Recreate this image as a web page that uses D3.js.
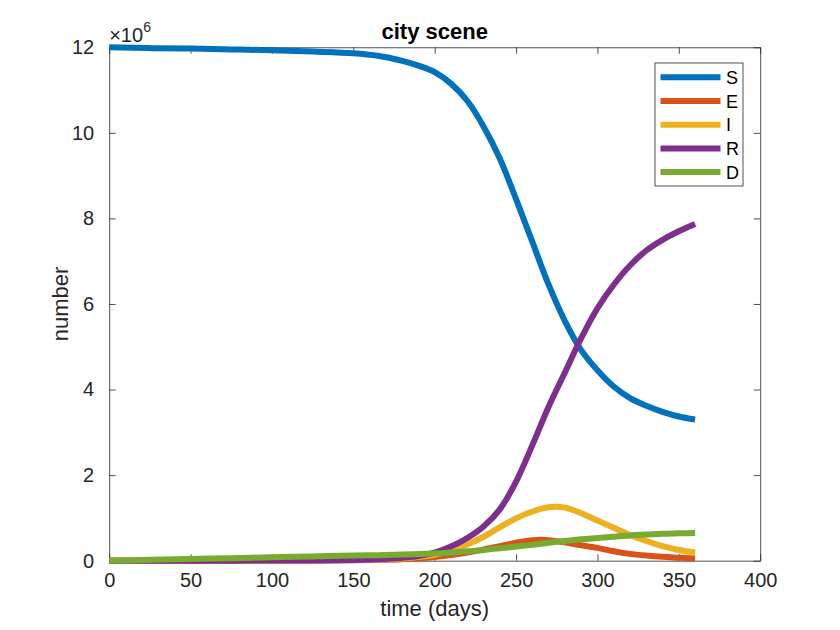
<!DOCTYPE html>
<html>
<head>
<meta charset="utf-8">
<script src="https://d3js.org/d3.v7.min.js"></script>
<style>
  body { margin: 0; background: #fff; }
  svg { display: block; font-family: Arial, "Liberation Sans", Helvetica, sans-serif; }
</style>
</head>
<body>
<div id="chart"></div>
<script>
// days sampled from the plot, values in units of 1e6 people
const days = [0, 25, 50, 75, 100, 125, 150, 165, 180, 190, 200, 210, 220, 230, 240, 250, 260, 270, 280, 290, 300, 310, 320, 330, 340, 350, 360];
const S = [12.0, 11.98, 11.97, 11.95, 11.93, 11.9, 11.86, 11.8, 11.68, 11.57, 11.42, 11.15, 10.75, 10.15, 9.4, 8.45, 7.45, 6.45, 5.6, 4.92, 4.45, 4.07, 3.8, 3.62, 3.48, 3.37, 3.3];
const E = [0, 0, 0, 0.001, 0.003, 0.006, 0.012, 0.02, 0.035, 0.055, 0.085, 0.13, 0.19, 0.26, 0.34, 0.42, 0.48, 0.48, 0.43, 0.36, 0.3, 0.22, 0.16, 0.12, 0.09, 0.07, 0.05];
const I = [0, 0, 0, 0.001, 0.003, 0.007, 0.015, 0.027, 0.05, 0.085, 0.14, 0.25, 0.38, 0.56, 0.78, 0.99, 1.15, 1.25, 1.24, 1.11, 0.94, 0.77, 0.6, 0.46, 0.34, 0.25, 0.19];
const R = [0, 0, 0, 0.001, 0.003, 0.006, 0.015, 0.035, 0.07, 0.11, 0.19, 0.33, 0.53, 0.8, 1.2, 1.85, 2.7, 3.6, 4.4, 5.2, 5.9, 6.45, 6.9, 7.25, 7.5, 7.7, 7.87];
const D = [0, 0.02, 0.04, 0.06, 0.08, 0.1, 0.12, 0.13, 0.145, 0.155, 0.17, 0.19, 0.22, 0.25, 0.29, 0.33, 0.37, 0.42, 0.46, 0.5, 0.53, 0.56, 0.59, 0.61, 0.63, 0.64, 0.65];

const seriesNames = ['S', 'E', 'I', 'R', 'D'];
const seriesColors = ['#0072BD', '#D95319', '#EDB120', '#7E2F8E', '#77AC30'];
const xTicks = [0, 50, 100, 150, 200, 250, 300, 350, 400];
const yTicks = [0, 2, 4, 6, 8, 10, 12];

(function () {
  const width = 840, height = 630;
  const x0 = 109.2, x1 = 760.2, y0 = 560.7, y1 = 47.25;
  const ink = '#262626';

  const svg = d3.select('#chart').append('svg')
    .attr('width', width)
    .attr('height', height);

  const x = d3.scaleLinear().domain([0, 400]).range([x0, x1]);
  const y = d3.scaleLinear().domain([0, 12]).range([y0, y1]);

  // axes box with inward ticks on all four sides
  const tickLen = 6.5;
  const axisStyle = g => {
    g.selectAll('path, line').attr('stroke', ink).attr('stroke-width', 0.8);
    g.selectAll('text').attr('fill', ink).attr('font-size', 20).attr('font-family', null);
  };

  svg.append('g')
    .attr('transform', `translate(0,${y0})`)
    .call(d3.axisBottom(x).tickValues(xTicks).tickSizeInner(-tickLen).tickSizeOuter(0).tickPadding(12))
    .call(axisStyle);
  svg.append('g')
    .attr('transform', `translate(0,${y1})`)
    .call(d3.axisTop(x).tickValues(xTicks).tickSizeInner(-tickLen).tickSizeOuter(0).tickFormat(''))
    .call(axisStyle);
  svg.append('g')
    .attr('transform', `translate(${x0},0)`)
    .call(d3.axisLeft(y).tickValues(yTicks).tickSizeInner(-tickLen).tickSizeOuter(0).tickPadding(15))
    .call(axisStyle);
  svg.append('g')
    .attr('transform', `translate(${x1},0)`)
    .call(d3.axisRight(y).tickValues(yTicks).tickSizeInner(-tickLen).tickSizeOuter(0).tickFormat(''))
    .call(axisStyle);

  svg.selectAll('.domain').attr('fill', 'none');

  // exponent label
  const expo = svg.append('text')
    .attr('x', x0)
    .attr('y', 42)
    .attr('fill', ink)
    .attr('font-size', 20);
  expo.append('tspan').text('\u00d710');
  expo.append('tspan').attr('font-size', 14).attr('dy', -10).text('6');

  // lines
  const line = d3.line()
    .x(d => x(d[0]))
    .y(d => y(d[1]))
    .curve(d3.curveCatmullRom.alpha(0.5));

  const allSeries = [S, E, I, R, D];
  allSeries.forEach((vals, i) => {
    svg.append('path')
      .datum(days.map((d, k) => [d, vals[k]]))
      .attr('fill', 'none')
      .attr('stroke', seriesColors[i])
      .attr('stroke-width', 6)
      .attr('stroke-linejoin', 'round')
      .attr('d', line);
  });

  // title and axis labels
  svg.append('text')
    .attr('x', (x0 + x1) / 2)
    .attr('y', 39)
    .attr('text-anchor', 'middle')
    .attr('font-size', 22)
    .attr('font-weight', 'bold')
    .attr('fill', '#000')
    .text('city scene');

  svg.append('text')
    .attr('x', (x0 + x1) / 2)
    .attr('y', 616)
    .attr('text-anchor', 'middle')
    .attr('font-size', 22)
    .attr('fill', ink)
    .text('time (days)');

  svg.append('text')
    .attr('transform', `translate(68,${(y0 + y1) / 2}) rotate(-90)`)
    .attr('text-anchor', 'middle')
    .attr('font-size', 22)
    .attr('fill', ink)
    .text('number');

  // legend
  const legend = svg.append('g').attr('transform', 'translate(655,63)');
  legend.append('rect')
    .attr('width', 88)
    .attr('height', 123)
    .attr('fill', '#fff')
    .attr('stroke', ink)
    .attr('stroke-width', 0.8);

  seriesNames.forEach((name, i) => {
    const ry = 14.3 + i * 23.7;
    legend.append('line')
      .attr('x1', 5.5).attr('x2', 65.5)
      .attr('y1', ry).attr('y2', ry)
      .attr('stroke', seriesColors[i])
      .attr('stroke-width', 6);
    legend.append('text')
      .attr('x', 71)
      .attr('y', ry + 6.5)
      .attr('font-size', 18)
      .attr('fill', '#000')
      .text(name);
  });
})();
</script>
</body>
</html>
